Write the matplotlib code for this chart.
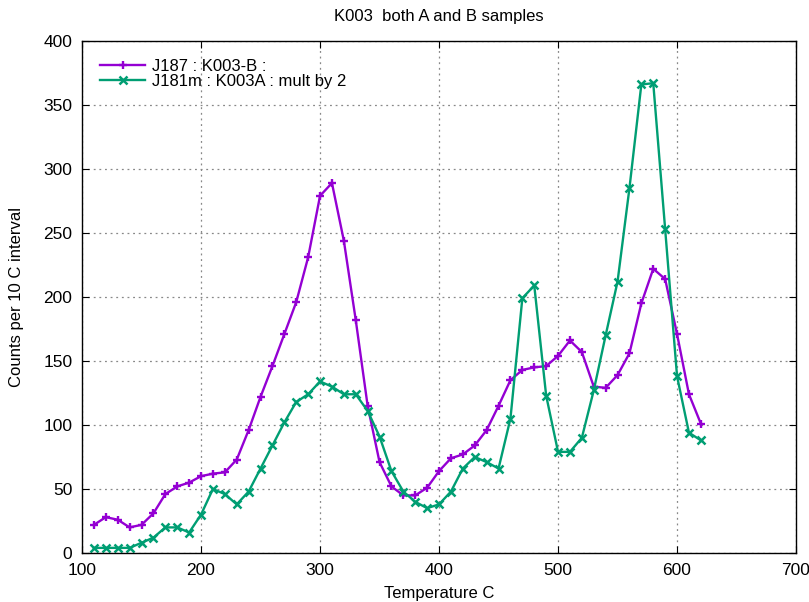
import numpy as np
import matplotlib
matplotlib.use("Agg")
import matplotlib.pyplot as plt

plt.rcParams['font.family'] = ['Liberation Sans', 'DejaVu Sans']

# temperature bins (C)
temp = list(range(110, 630, 10))

# J187 : K003-B
j187 = [22, 28, 26, 20, 22, 31, 46, 52, 55, 60,
        62, 63, 73, 96, 122, 146, 171, 196, 231, 279,
        289, 244, 182, 115, 71, 52, 45, 45, 51, 64,
        74, 77, 84, 96, 115, 135, 143, 145, 146, 154,
        166, 157, 130, 129, 139, 156, 195, 222, 214, 171,
        124, 101]

# J181m : K003A (mult by 2)
j181m = [4, 4, 4, 4, 8, 12, 20, 20, 16, 30,
         50, 46, 38, 48, 66, 84, 102, 118, 124, 134,
         130, 124, 124, 111, 91, 64, 48, 40, 35, 38,
         48, 66, 75, 71, 66, 105, 199, 209, 123, 79,
         79, 90, 127, 170, 212, 285, 366, 367, 253, 138,
         94, 88]

fig = plt.figure(figsize=(8.09, 6.02), dpi=100)
ax = fig.add_axes([0.1014, 0.0814, 0.8826, 0.8506])

ax.plot(temp, j187, color='#9400D3', marker='+', markersize=6, mew=1.7, lw=1.7,
        label='J187 : K003-B :')
ax.plot(temp, j181m, color='#009E73', marker='x', markersize=5.5, mew=1.8, lw=1.7,
        label='J181m : K003A : mult by 2')

ax.set_xlim(100, 700)
ax.set_ylim(0, 400)
ax.set_xticks(np.arange(100, 701, 100))
ax.set_yticks(np.arange(0, 401, 50))
ax.tick_params(direction='in', top=True, right=True, labelsize=12.5, length=5, pad=7)
ax.grid(True, linestyle=(0, (1.5, 3)), color='#888888', lw=0.9)
for s in ax.spines.values():
    s.set_linewidth(1.0)

ax.set_xlabel('Temperature C', fontsize=12, labelpad=6)
ax.set_ylabel('Counts per 10 C interval', fontsize=12, labelpad=14)
ax.set_title('K003  both A and B samples', fontsize=12, pad=14)

ax.legend(loc='upper left', frameon=False, fontsize=12, handlelength=2.7,
          labelspacing=0.0, borderaxespad=0.5, borderpad=0.6, handletextpad=0.4)

fig.savefig('out.png', dpi=100)
